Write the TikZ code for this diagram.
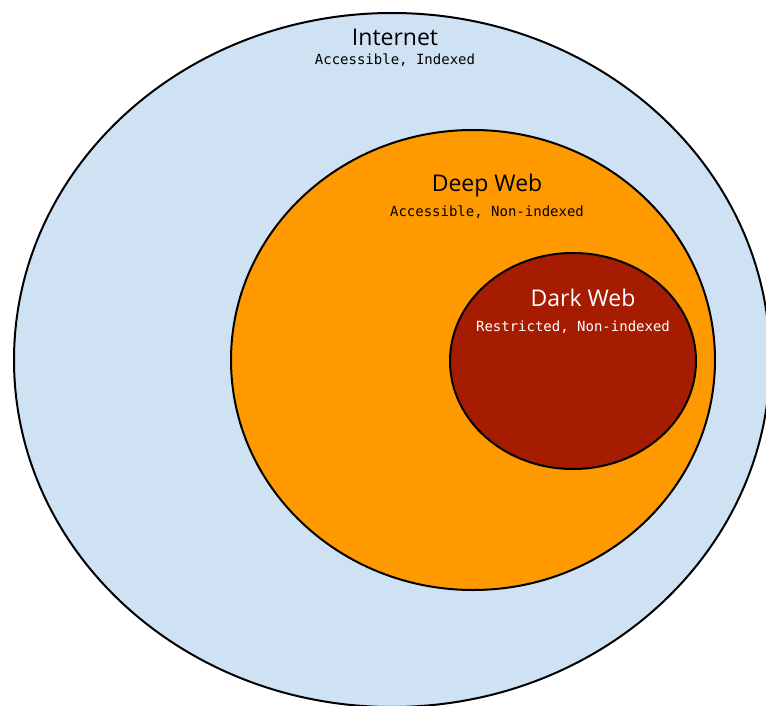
\documentclass[tikz,border=0pt]{standalone}
\usepackage{fontspec}
\setmainfont{Open Sans}
\newfontfamily\monof{DejaVu Sans Mono}
\definecolor{netblue}{HTML}{CFE2F3}
\definecolor{deeporange}{HTML}{FF9900}
\definecolor{darkred}{HTML}{A61C00}
\begin{document}
\begin{tikzpicture}[x=1pt,y=-1pt,
  zone/.style={draw=black,line width=2pt},
  title/.style={font=\fontsize{23}{26}\selectfont,inner sep=0pt,anchor=base},
  sub/.style={font=\monof\fontsize{14}{16}\selectfont,inner sep=0pt,anchor=base}]
\useasboundingbox (0,0) rectangle (766,706);
\clip (0,0) rectangle (766,706);
\path[zone,fill=netblue] (392,360) ellipse [x radius=378,y radius=347];
\path[zone,fill=deeporange] (473,360) ellipse [x radius=242,y radius=230];
\path[zone,fill=darkred] (573,361) ellipse [x radius=123,y radius=108];
\node[title] (internet) at (395,46) {Internet};
\node[sub] (internetsub) at (395,65) {Accessible, Indexed};
\node[title] (deep) at (487,192) {Deep Web};
\node[sub] (deepsub) at (487,216) {Accessible, Non-indexed};
\node[title,text=white] (dark) at (583,306) {Dark Web};
\node[sub,text=white] (darksub) at (573,331) {Restricted, Non-indexed};
\end{tikzpicture}
\end{document}
